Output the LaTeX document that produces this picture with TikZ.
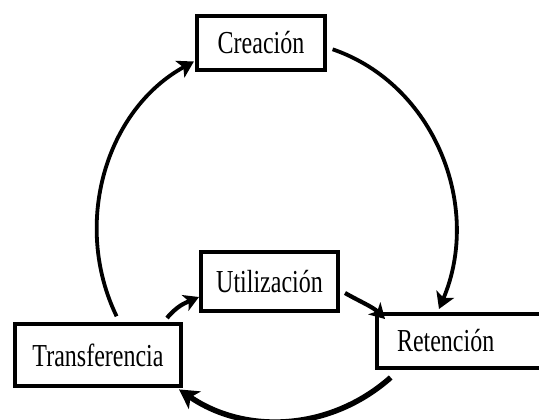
\documentclass[tikz,border=0pt]{standalone}
\usepackage{fontspec}
\setmainfont{Liberation Serif}[FakeStretch=0.75]
\usetikzlibrary{arrows.meta}
\begin{document}
\begin{tikzpicture}[x=1pt,y=-1pt,
  stagebox/.style={draw,line width=4pt,fill=white,inner sep=0pt,
    font=\fontsize{32}{38}\selectfont},
  flow/.style={line width=3.8pt,
    -{Stealth[length=16pt,width=19pt,inset=4pt]}},
  shortflow/.style={line width=4.2pt,
    -{Stealth[length=15pt,width=17pt,inset=4pt]}},
  heavyflow/.style={line width=5.5pt,
    -{Stealth[length=19pt,width=21pt,inset=5pt]}}]
\useasboundingbox (0,0) rectangle (539,420);

% stages of the cycle
\node[stagebox,minimum width=128,minimum height=54] (cre) at (261,43) {Creación};
\node[stagebox,minimum width=137,minimum height=59] (uti) at (269.5,281.5) {Utilización};
\node[stagebox,minimum width=166,minimum height=62] (tra) at (98,355) {Transferencia};
\node[stagebox,anchor=north west,text width=150,align=left,
      inner xsep=20,minimum height=54] (ret) at (375,312) {Retención};

% outer cycle
\draw[flow] ([shift={(5.6,6.3)}]cre.east)
  .. controls +(101.6,34.8) and +(43.5,-103) .. ([shift={(64,-3)}]ret.north west);
\draw[heavyflow] ([shift={(15.7,7.5)}]ret.south west)
  .. controls +(-60.6,53.7) and +(66.4,45.5) .. ([shift={(-4,1.4)}]tra.south east);
\draw[flow] ([shift={(103.6,-5.7)}]tra.north west)
  .. controls +(-44.9,-92.9) and +(-87.7,48.2) .. ([shift={(-1.1,18.5)}]cre.west);

% inner path through use
\draw[shortflow] ([shift={(-16,-4)}]tra.north east)
  .. controls +(10,-12) and +(-14,6) .. ([shift={(0,15.5)}]uti.west);
\draw[shortflow] ([shift={(5,11.5)}]uti.east)
  .. controls +(14,8) and +(-12,-12) .. ([shift={(10,7)}]ret.north west);
\end{tikzpicture}
\end{document}
